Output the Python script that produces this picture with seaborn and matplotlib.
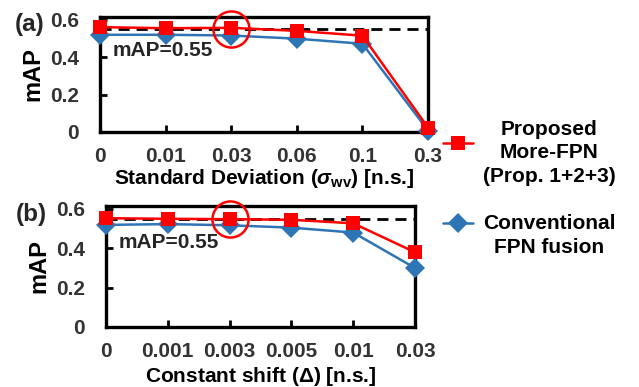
import matplotlib
matplotlib.use("Agg")
import matplotlib.pyplot as plt
import seaborn as sns
import pandas as pd
from matplotlib.lines import Line2D

# ---- data ----
cats_a = ["0", "0.01", "0.03", "0.06", "0.1", "0.3"]
prop_a = [0.561, 0.555, 0.557, 0.541, 0.515, 0.024]
conv_a = [0.520, 0.520, 0.516, 0.499, 0.472, 0.008]

cats_b = ["0", "0.001", "0.003", "0.005", "0.01", "0.03"]
prop_b = [0.553, 0.550, 0.548, 0.545, 0.527, 0.380]
conv_b = [0.519, 0.523, 0.517, 0.505, 0.480, 0.300]

ref_map = 0.55
yticks = [0, 0.2, 0.4, 0.6]
ytick_labels = ["0", "0.2", "0.4", "0.6"]
label_prop = "Proposed\nMore-FPN\n(Prop. 1+2+3)"
label_conv = "Conventional\nFPN fusion"

RED = "#FF0000"
BLUE = "#2E75B6"
TICKC = "#333333"

sns.set_theme(style="ticks")
plt.rcParams["font.family"] = ["Liberation Sans", "DejaVu Sans"]
plt.rcParams["font.weight"] = "bold"
plt.rcParams["mathtext.fontset"] = "custom"
plt.rcParams["mathtext.rm"] = "Liberation Sans:bold"
plt.rcParams["mathtext.it"] = "Liberation Sans:italic:bold"
plt.rcParams["mathtext.bf"] = "Liberation Sans:bold"

W, H = 639, 387
fig = plt.figure(figsize=(W / 100, H / 100), dpi=100)


def px_axes(l, t, r, b):
    return fig.add_axes([l / W, 1 - b / H, (r - l) / W, (b - t) / H])


def fx(x):
    return x / W


def fy(y):
    return 1 - y / H


FS = 15


def panel(ax, cats, prop, conv, xlabel, xlpad, tag, tag_xy, txt_xy):
    pos = list(range(len(cats)))
    df = pd.DataFrame({"pos": pos + pos,
                       "val": prop + conv,
                       "series": ["prop"] * len(pos) + ["conv"] * len(pos)})
    ax.axhline(ref_map, color="black", lw=2, ls=(0, (4, 2.5)), zorder=1)
    sns.lineplot(data=df[df.series == "conv"], x="pos", y="val", ax=ax,
                 color=BLUE, marker="D", markersize=10.5, markeredgewidth=0,
                 markerfacecolor=BLUE, lw=1.8, clip_on=False, zorder=3)
    sns.lineplot(data=df[df.series == "prop"], x="pos", y="val", ax=ax,
                 color=RED, marker="s", markersize=10.5, markeredgewidth=0,
                 markerfacecolor=RED, lw=1.8, clip_on=False, zorder=4)
    ax.plot([2], [ref_map], marker="o", markersize=26, markerfacecolor="none",
            markeredgecolor=RED, markeredgewidth=1.8, clip_on=False, zorder=5)
    ax.set_xlim(0, len(cats) - 1)
    ax.set_ylim(0, 0.615)
    ax.set_xticks(pos)
    ax.set_xticklabels(cats, fontsize=FS, fontweight="bold")
    ax.set_yticks(yticks)
    ax.set_yticklabels(ytick_labels, fontsize=FS, fontweight="bold")
    ax.tick_params(axis="both", direction="in", length=5, width=2,
                   color="black", labelcolor=TICKC)
    ax.tick_params(axis="y", pad=15)
    ax.tick_params(axis="x", pad=11)
    for s in ax.spines.values():
        s.set_linewidth(2.4)
        s.set_color("black")
    ax.set_xlabel(xlabel, fontsize=FS, fontweight="bold", labelpad=xlpad,
                  color="black")
    ax.set_ylabel("mAP", fontsize=17, fontweight="bold", labelpad=4,
                  color="black")
    ax.text(txt_xy[0], txt_xy[1], "mAP=0.55", transform=ax.transAxes,
            fontsize=FS, fontweight="bold", ha="left", va="center")
    fig.text(fx(tag_xy[0]), fy(tag_xy[1]), tag, fontsize=17.5,
             fontweight="bold", ha="center", va="center")
    ax.grid(False)


ax1 = px_axes(100, 17, 428, 132)
panel(ax1, cats_a, prop_a, conv_a,
      r"Standard Deviation ($\mathit{\sigma}_{\mathrm{wv}}$) [n.s.]", 0.5,
      "(a)", (30, 25), (0.04, 0.71))

ax2 = px_axes(106, 206, 415, 327)
panel(ax2, cats_b, prop_b, conv_b,
      r"Constant shift ($\mathit{\Delta}$) [n.s.]", 3,
      "(b)", (31, 215), (0.04, 0.70))

# ---- legend (manual layout) ----
for (y, col, mk, lab, ty) in [(143, RED, "s", label_prop, 153),
                              (223, BLUE, "D", label_conv, 235.5)]:
    fig.add_artist(Line2D([fx(443), fx(473)], [fy(y), fy(y)], color=col,
                          lw=1.8, transform=fig.transFigure))
    fig.add_artist(Line2D([fx(458)], [fy(y)], color=col, marker=mk,
                          markersize=10.5, markeredgewidth=0, lw=0,
                          transform=fig.transFigure))
    fig.text(fx(549), fy(ty), lab, fontsize=FS, fontweight="bold",
             ha="center", va="center", multialignment="center",
             linespacing=1.3, color="black")

fig.savefig("out.png", dpi=100)
